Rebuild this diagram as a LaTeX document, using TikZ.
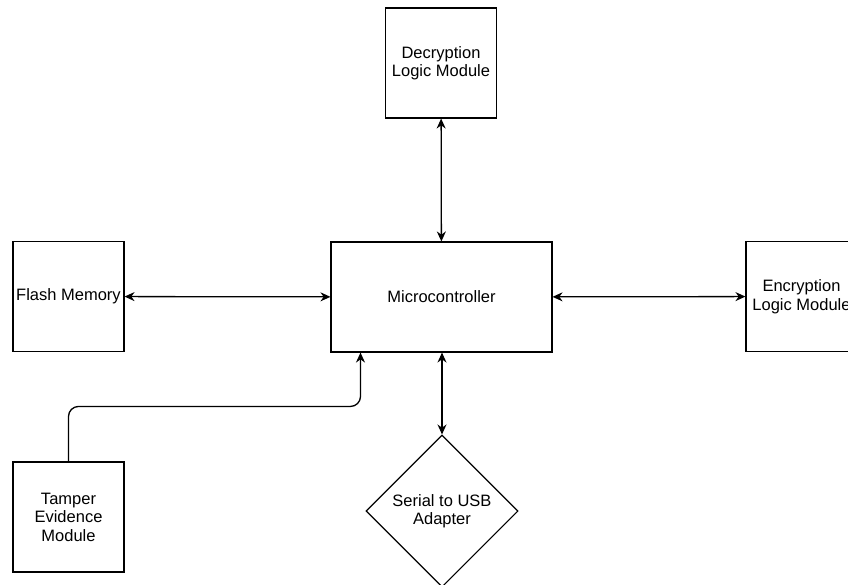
\documentclass[tikz,border=0pt]{standalone}
\usepackage{fontspec}
\setmainfont{Liberation Sans}
\usetikzlibrary{arrows.meta,shapes.geometric}

\begin{document}
\begin{tikzpicture}[x=1pt, y=-1pt,
  every node/.style={font=\fontsize{16.5}{18.5}\selectfont, align=center},
  box/.style={draw, line width=1.1pt, inner sep=2pt, minimum width=111pt, minimum height=110pt},
  arr/.style={line width=1.3pt, {Stealth[length=10pt,width=9pt]}-{Stealth[length=10pt,width=9pt]}}]

  %% Canvas
  \useasboundingbox (0,0) rectangle (848,584);
  \clip (0,0) rectangle (848,584);

  %% Centre: microcontroller
  \node[box, minimum width=221pt] (micro) at (441.5,297) {Microcontroller};

  %% Surrounding modules
  \node[box] (decrypt) at (441,63) {Decryption\\Logic Module};
  \node[box] (flash) at (68.5,296.5) {Flash Memory};
  \node[box] (encrypt) at (801.5,296.5) {Encryption\\Logic Module};
  \node[box] (tamper) at (68.5,517) {Tamper\\Evidence\\Module};
  \node[draw, diamond, shape aspect=1, line width=1.1pt, inner sep=0pt,
        minimum width=152pt, minimum height=152pt] (usb) at (442,511) {Serial to USB\\Adapter};

  %% Links
  \draw[arr] (decrypt) -- (micro);
  \draw[arr] (flash) -- (micro);
  \draw[arr] (micro) -- (encrypt);
  \draw[arr] (micro.south -| usb.north) -- (usb.north);

  % tamper signal goes up and over into the microcontroller
  \draw[line width=1.3pt, -{Stealth[length=10pt,width=9pt]}, rounded corners=10pt]
    (tamper.north) -- ++(0,-55) -| ([xshift=-81pt]micro.south);

\end{tikzpicture}
\end{document}
